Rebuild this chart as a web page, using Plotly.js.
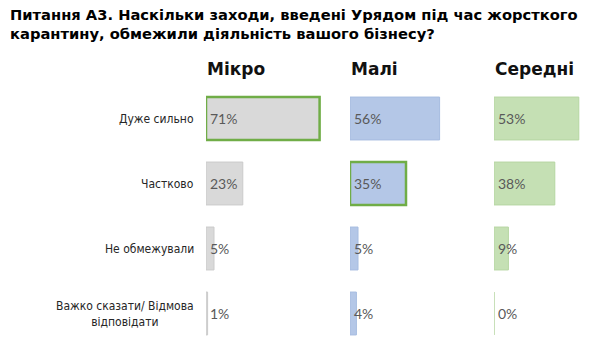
<!DOCTYPE html>
<html>
<head>
<meta charset="utf-8">
<script src="https://cdn.plot.ly/plotly-3.0.1.min.js"></script>
<style>html,body{margin:0;padding:0;background:#fff;}#chart{width:610px;height:357px;}</style>
</head>
<body>
<div id="chart"></div>
<script>
// ---- data ----
var titleText = "Питання А3. Наскільки заходи, введені Урядом під час жорсткого<br>карантину, обмежили діяльність вашого бізнесу?";
var categories = ["Дуже сильно", "Частково", "Не обмежували", "Важко сказати/ Відмова<br>відповідати"];
var groups = ["Мікро", "Малі", "Середні"];
var microValues = [71, 23, 5, 1];
var maliValues = [56, 35, 5, 4];
var seredniValues = [53, 38, 9, 0];
var highlightedRow = [0, 1, null]; // which row is outlined in each group

// ---- styling ----
var seriesValues = [microValues, maliValues, seredniValues];
var fills = ["#d9d9d9", "#b4c7e7", "#c5e0b4"];
var edges = ["#cbcbcb", "#a6bce0", "#b6d6a2"];
var hlColor = "#70ad47";
var pxPerPct = 1.6;
var marginL = 206, marginT = 86, plotH = 260;
var plotW = 398;
var starts = [0, 144, 288];
var widths = [138, 138, 110];

var traces = [];
var annotations = [];
var layout = {
  width: 610, height: 357,
  margin: {l: marginL, r: 6, t: marginT, b: 11, pad: 0},
  paper_bgcolor: "#fff", plot_bgcolor: "#fff",
  showlegend: false,
  bargap: 0.34,
  yaxis: {
    type: "category",
    categoryorder: "array", categoryarray: categories,
    range: [3.5, -0.5],
    showticklabels: false, showgrid: false, zeroline: false, showline: false,
    fixedrange: true
  }
};

// title as a left-aligned annotation
annotations.push({
  text: titleText, xref: "paper", yref: "paper",
  x: (8 - marginL) / plotW, y: 1 + (marginT - 4) / plotH,
  xanchor: "left", yanchor: "top", align: "left", showarrow: false,
  font: {family: "DejaVu Sans", size: 14.7, color: "#000", weight: "bold"}
});

for (var g = 0; g < 3; g++) {
  var axName = g === 0 ? "x" : "x" + (g + 1);
  var axKey = g === 0 ? "xaxis" : "xaxis" + (g + 1);
  var vals = seriesValues[g];
  var lineColors = [], lineWidths = [];
  for (var i = 0; i < vals.length; i++) {
    if (highlightedRow[g] === i) { lineColors.push(hlColor); lineWidths.push(2.5); }
    else { lineColors.push(edges[g]); lineWidths.push(1); }
  }
  traces.push({
    type: "bar", orientation: "h",
    x: vals, y: categories,
    xaxis: axName, yaxis: "y",
    marker: {color: fills[g], line: {color: lineColors, width: lineWidths}},
    hoverinfo: "skip"
  });
  layout[axKey] = {
    domain: [starts[g] / plotW, (starts[g] + widths[g]) / plotW],
    range: [0, widths[g] / pxPerPct],
    showticklabels: false, showgrid: false, zeroline: false, showline: false,
    anchor: "y", fixedrange: true
  };
  // group header
  annotations.push({
    text: groups[g], xref: axName, yref: "paper", x: 0, y: 1,
    xanchor: "left", yanchor: "bottom", showarrow: false, yshift: 5, xshift: -1,
    font: {family: "DejaVu Sans", size: 17, color: "#111", weight: "bold"}
  });
  // value labels
  for (var j = 0; j < vals.length; j++) {
    annotations.push({
      text: vals[j] + "%", xref: axName, yref: "y", x: 0, y: categories[j],
      xanchor: "left", yanchor: "middle", showarrow: false, xshift: 2,
      font: {family: "Lato", size: 14, color: "#595959"}
    });
  }
}
// category labels
for (var k = 0; k < categories.length; k++) {
  annotations.push({
    text: categories[k], xref: "paper", yref: "y", x: 0, y: categories[k],
    xanchor: "right", yanchor: "middle", align: "center", showarrow: false, xshift: -10,
    font: {family: "DejaVu Sans Condensed, DejaVu Sans", size: 12, color: "#262626"}
  });
}
layout.annotations = annotations;

Plotly.newPlot("chart", traces, layout, {displayModeBar: false, staticPlot: true});
</script>
</body>
</html>
